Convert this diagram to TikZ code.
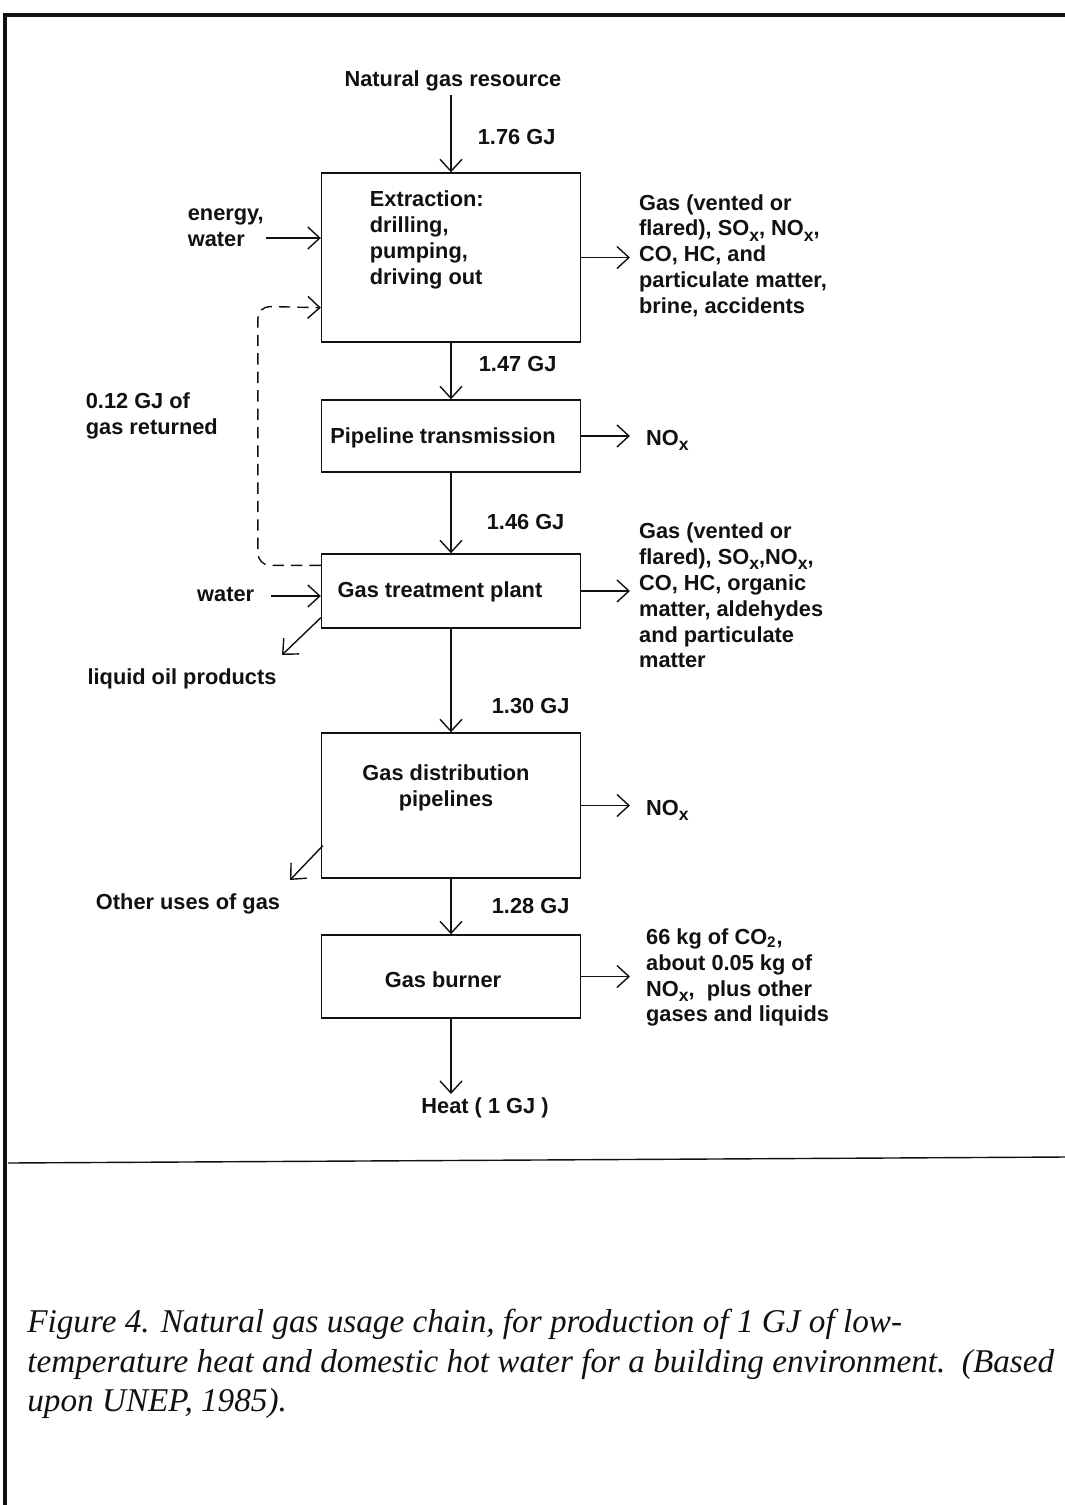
\documentclass[tikz,border=0pt]{standalone}
\usepackage{fontspec}
\setmainfont{Liberation Sans}
\newfontfamily\capfont{Liberation Serif}
\usetikzlibrary{arrows.meta,calc}
\definecolor{tinte}{HTML}{111111}
\newcommand{\tief}[1]{\raisebox{-0.45ex}{\fontsize{10}{10}\selectfont #1}}
\tikzset{
  kasten/.style={draw=tinte,line width=0.8pt,minimum width=5.18cm,inner sep=0pt},
  pfeil/.style={-{Straight Barb[length=2.4mm,width=4.4mm]},tinte,line width=0.8pt},
  rueck/.style={pfeil,dash pattern=on 6.5pt off 4pt,rounded corners=7pt},
  txt/.style={font=\bfseries\fontsize{12.4}{14.7}\selectfont,text=tinte,inner sep=2pt,align=left},
  aus/.style={txt,anchor=west,inner xsep=5pt},
  rahmen/.style={tinte,line width=2.8pt},
}

\begin{document}
\begin{tikzpicture}[x=0.02cm,y=-0.02cm]
  \useasboundingbox (0,0) rectangle (1065,1505);
  % --- Rahmen ---
  \draw[rahmen] (5,1505)--(5,15)--(1065,15);
  \draw[tinte,line width=0.8pt] (8,1163)--(1065,1157);
  % --- Kaesten ---
  \node[kasten,minimum height=3.38cm] (ext) at (451,257.5) {};
  \node[kasten,minimum height=1.44cm] (pipe) at (451,436) {};
  \node[kasten,minimum height=1.48cm] (treat) at (451,591) {};
  \node[kasten,minimum height=2.90cm] (dist) at (451,805.5) {};
  \node[kasten,minimum height=1.66cm] (burn) at (451,976.5) {};
  \node[txt,anchor=west] (extT) at (366,240) {Extraction:\\drilling,\\pumping,\\driving out};
  \node[txt] (pipeT) at (443,438) {Pipeline transmission};
  \node[txt] (treatT) at (440,592) {Gas treatment plant};
  \node[txt,align=center] (distT) at (446,788) {Gas distribution\\pipelines};
  \node[txt] (burnT) at (443,980) {Gas burner};
  % --- Hauptstrang ---
  \node[txt] (quelle) at (453,81) {Natural gas resource};
  \node[txt] (heat) at (485,1108) {Heat ( 1 GJ )};
  \draw[pfeil] (ext.north |- quelle.south)--(ext.north);
  \draw[pfeil] (ext.south)--(pipe.north);
  \draw[pfeil] (pipe.south)--(treat.north);
  \draw[pfeil] (treat.south)--(dist.north);
  \draw[pfeil] (dist.south)--(burn.north);
  \draw[pfeil] (burn.south)--(burn.south |- heat.north);
  \node[txt,anchor=west] (m1) at (474,137) {1.76 GJ};
  \node[txt,anchor=west] (m2) at (475,364) {1.47 GJ};
  \node[txt,anchor=west] (m3) at (483,522) {1.46 GJ};
  \node[txt,anchor=west] (m4) at (488,706) {1.30 GJ};
  \node[txt,anchor=west] (m5) at (488,906) {1.28 GJ};
  % --- Emissionen ---
  \node[aus] (extO) at (630,255.5) {Gas (vented or\\flared), SO\tief{x}, NO\tief{x},\\CO, HC, and\\particulate matter,\\brine, accidents};
  \node[aus,inner xsep=9pt] (pipeO) at (630,440) {NO\tief{x}};
  \node[aus] (treatO) at (630,595.5) {Gas (vented or\\flared), SO\tief{x},NO\tief{x},\\CO, HC, organic\\matter, aldehydes\\and particulate\\matter};
  \node[aus,inner xsep=9pt] (distO) at (630,810) {NO\tief{x}};
  \node[aus,inner xsep=9pt] (burnO) at (630,977.5) {66 kg of CO\textsubscript{2},\\about 0.05 kg of\\NO\tief{x},\ \ plus other\\gases and liquids};
  \draw[pfeil] (ext.east)--(ext.east -| extO.west);
  \draw[pfeil] (pipe.east)--(pipe.east -| pipeO.west);
  \draw[pfeil] (treat.east)--(treat.east -| treatO.west);
  \draw[pfeil] (dist.east)--(dist.east -| distO.west);
  \draw[pfeil] (burn.east)--(burn.east -| burnO.west);
  % --- Zufuhr und Nebenprodukte ---
  \node[txt,anchor=west] (energie) at (184,228) {energy,\\water};
  \coordinate (eIn) at (266,238);
  \draw[pfeil] (eIn)--(eIn -| ext.west);
  \node[txt,anchor=east] (wasser) at (258,594) {water};
  \coordinate (wIn) at (271,596);
  \draw[pfeil] (wIn)--(wIn -| treat.west);
  \node[txt] (oel) at (182,679) {liquid oil products};
  \coordinate (oelEnd) at (282,655);
  \draw[pfeil] ($(treat.south west)+(0,-11)$)--(oelEnd);
  \node[txt] (andere) at (188,904) {Other uses of gas};
  \coordinate (andEnd) at (290,880);
  \draw[pfeil] ($(dist.south west)+(2,-33)$)--(andEnd);
  % --- Rueckfuehrung ---
  \node[txt,anchor=west] (rueckT) at (82,416) {0.12 GJ of\\gas returned};
  \draw[rueck] ($(treat.north west)+(0,12)$)--++(-63,0)--++(0,-259)--($(ext.south west)+(0,-35)$);
  % --- Bildunterschrift ---
  \node[anchor=west,inner sep=0pt,align=left,text=tinte,font=\capfont\itshape\fontsize{18.9}{22.4}\selectfont] (caption) at (27,1364)
    {Figure 4. Natural gas usage chain, for production of 1 GJ of low-\\temperature heat and domestic hot water for a building environment.\ \ (Based\\upon UNEP, 1985).};
\end{tikzpicture}
\end{document}
